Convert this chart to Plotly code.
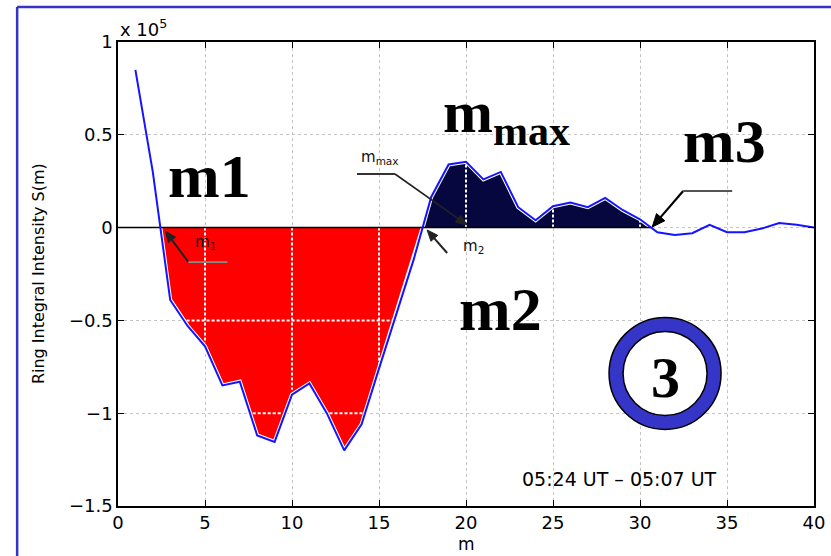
import numpy as np
import plotly.graph_objects as go

# ---------------- data (S in units of 1e5) ----------------
m_vals = list(range(1, 41))
S_vals = [0.85, 0.30, -0.39, -0.53, -0.64, -0.85, -0.83, -1.12, -1.155, -0.90,
          -0.84, -1.00, -1.20, -1.06, -0.76, -0.47, -0.17, 0.165, 0.34, 0.355,
          0.26, 0.30, 0.11, 0.04, 0.115, 0.135, 0.11, 0.16, 0.095, 0.045,
          -0.025, -0.04, -0.03, 0.015, -0.025, -0.025, -0.005, 0.025, 0.015, 0.0]
x_ticks = [0, 5, 10, 15, 20, 25, 30, 35, 40]
y_ticks = [-1.5, -1.0, -0.5, 0.0, 0.5, 1.0]
y_ticktext = ["\u22121.5", "\u22121", "\u22120.5", "0", "0.5", "1"]
x_range = [0, 40]
y_range = [-1.5, 1.0]
time_label = "05:24 UT \u2013 05:07 UT"

m = np.array(m_vals, dtype=float)
S = np.array(S_vals, dtype=float)

# zero crossings
cross = []
for i in range(len(m) - 1):
    if S[i] * S[i + 1] < 0:
        cross.append(m[i] - S[i] * (m[i + 1] - m[i]) / (S[i + 1] - S[i]))
m1, m2, m3 = cross[0], cross[1], cross[2]
m_max = m[np.argmax(np.where((m > m2) & (m < m3), S, -np.inf))]

def region(a, b):
    sel = (m > a) & (m < b)
    return np.r_[a, m[sel], b], np.r_[0, S[sel], 0]

fig = go.Figure()

rx, ry = region(m1, m2)
fig.add_trace(go.Scatter(x=rx, y=ry, fill="toself", fillcolor="#ff0000",
                         line=dict(color="white", width=4), mode="lines",
                         hoverinfo="skip", showlegend=False))
nx, ny = region(m2, m3)
fig.add_trace(go.Scatter(x=nx, y=ny, fill="toself", fillcolor="#07073f",
                         line=dict(color="white", width=4), mode="lines",
                         hoverinfo="skip", showlegend=False))

# white grid lines drawn over the filled areas
def white_seg(xs, ys):
    fig.add_trace(go.Scatter(x=xs, y=ys, mode="lines",
                             line=dict(color="white", width=2, dash="3px,2px"),
                             hoverinfo="skip", showlegend=False))

for a, b in [(m1, m2), (m2, m3)]:
    for xv in x_ticks:
        if a + 0.3 < xv < b - 0.3:
            yv = np.interp(xv, m, S)
            white_seg([xv, xv], [0, yv * 0.97])
    fine = np.linspace(a, b, 2000)
    fy = np.interp(fine, m, S)
    for yv in y_ticks:
        if yv == 0:
            continue
        inside = (fy < yv) if yv < 0 else (fy > yv)
        idx = np.where(inside)[0]
        if len(idx) == 0:
            continue
        runs = np.split(idx, np.where(np.diff(idx) > 1)[0] + 1)
        for r in runs:
            if len(r) > 5:
                white_seg([fine[r[0]] + 0.15, fine[r[-1]] - 0.15], [yv, yv])

# black zero line up to m3
fig.add_trace(go.Scatter(x=[x_range[0], m3], y=[0, 0], mode="lines",
                         line=dict(color="black", width=1.5),
                         hoverinfo="skip", showlegend=False))
# main curve
fig.add_trace(go.Scatter(x=m, y=S, mode="lines",
                         line=dict(color="#1414ff", width=2),
                         hoverinfo="skip", showlegend=False))

tickfont = dict(family="DejaVu Sans", size=18, color="black")
axis_common = dict(showline=True, linecolor="black", linewidth=1.5, mirror="ticks",
                   ticks="inside", ticklen=6, tickcolor="black", tickwidth=1,
                   showgrid=True, gridcolor="#c4c4c4", griddash="dot", gridwidth=1,
                   zeroline=False, tickfont=tickfont, automargin=False)
fig.update_xaxes(range=x_range, tickvals=x_ticks, **axis_common)
fig.update_yaxes(range=y_range, tickvals=y_ticks, ticktext=y_ticktext, **axis_common)

ann = []
big = dict(family="Liberation Serif", size=62, color="black", weight="bold")
for txt, px, py in [("m1", 0.132, 0.711), ("m2", 0.550, 0.4246), ("m3", 0.872, 0.786)]:
    ann.append(dict(text=txt, x=px, y=py, xref="paper", yref="paper", showarrow=False,
                    font=big, xanchor="center", yanchor="middle"))
ann.append(dict(text="m<sub>max</sub>", x=0.558, y=0.8405, xref="paper", yref="paper",
                showarrow=False, font=dict(family="Liberation Serif", size=60, color="black", weight="bold"),
                xanchor="center", yanchor="middle"))
ann.append(dict(text="3", x=0.786, y=0.277, xref="paper", yref="paper", showarrow=False,
                font=dict(family="Liberation Serif", size=58, color="black", weight="bold"),
                xanchor="center", yanchor="middle"))
ann.append(dict(text=time_label, x=0.720, y=0.0573, xref="paper", yref="paper", showarrow=False,
                font=dict(family="DejaVu Sans", size=19, color="black"),
                xanchor="center", yanchor="middle"))
ann.append(dict(text="x 10<sup>5</sup>", x=0.0, y=1.0, xref="paper", yref="paper", showarrow=False,
                font=dict(family="DejaVu Sans", size=18, color="black"),
                xanchor="left", yanchor="bottom"))
ann.append(dict(text="Ring Integral Intensity S(m)", x=-0.1148, y=0.5, xref="paper", yref="paper",
                showarrow=False, textangle=-90,
                font=dict(family="DejaVu Sans", size=16, color="black"),
                xanchor="center", yanchor="middle"))
ann.append(dict(text="m", x=0.5, y=-0.082, xref="paper", yref="paper", showarrow=False,
                font=dict(family="DejaVu Sans", size=17, color="black"),
                xanchor="center", yanchor="middle"))

small = dict(family="DejaVu Sans", size=15, color="#111111")
# small labels tied to crossing points
ann.append(dict(text="m<sub>1</sub>", x=m1, y=0, xshift=45, yshift=-15, showarrow=False, font=small))
ann.append(dict(text="m<sub>max</sub>", x=m_max, y=0, xshift=-86, yshift=70, showarrow=False, font=small))
ann.append(dict(text="m<sub>2</sub>", x=m2, y=0, xshift=51, yshift=-19, showarrow=False, font=small))

shapes = []

def pshape(xa, **kw):
    d = dict(xref="x", yref="y", xsizemode="pixel", ysizemode="pixel", xanchor=xa, yanchor=0)
    d.update(kw)
    return d

# arrows: pixel offsets (y up) from the anchored zero-crossing / maximum point
def arrow(xa, tip, tail, col, w, hl=11, hw=4.5):
    tx, ty = tip
    sx, sy = tail
    dx, dy = tx - sx, ty - sy
    L = (dx * dx + dy * dy) ** 0.5
    ux, uy = dx / L, dy / L
    bx, by = tx - ux * hl, ty - uy * hl
    px_, py_ = -uy * hw, ux * hw
    shapes.append(pshape(xa, type="line", x0=sx, y0=sy, x1=bx + ux * 1, y1=by + uy * 1,
                         line=dict(color=col, width=w)))
    path = (f"M {tx:.2f} {ty:.2f} L {bx + px_:.2f} {by + py_:.2f} "
            f"L {bx - px_:.2f} {by - py_:.2f} Z")
    shapes.append(pshape(xa, type="path", path=path, fillcolor=col,
                         line=dict(color=col, width=1)))

arrow(m1, (5, -3.4), (28, -34.4), "#222222", 2)
arrow(m_max, (1, 2.6), (-71, 53.6), "#222222", 1.6)
arrow(m2, (4.5, -2.4), (24.5, -25.4), "#222222", 2)
arrow(m3, (1, 0.6), (32, 36.6), "black", 2.2, hl=13, hw=5.5)

# horizontal leader lines
for xa, x0, x1, yy, col in [(m1, 28, 67, -34.5, "#8a8a8a"),
                            (m_max, -109, -71, 53.6, "#333333"),
                            (m3, 32, 81, 36.6, "#555555")]:
    shapes.append(pshape(xa, type="line", x0=x0, x1=x1, y0=yy, y1=yy,
                         line=dict(color=col, width=1.8)))
# ring around "3"
shapes.append(dict(type="circle", xref="paper", yref="paper", xsizemode="pixel", ysizemode="pixel",
                   xanchor=0.786, yanchor=0.2856, x0=-56, x1=56, y0=-56, y1=56,
                   fillcolor="#3535c8", line=dict(color="black", width=1.5)))
shapes.append(dict(type="circle", xref="paper", yref="paper", xsizemode="pixel", ysizemode="pixel",
                   xanchor=0.786, yanchor=0.2856, x0=-42, x1=42, y0=-42, y1=42,
                   fillcolor="white", line=dict(color="black", width=1.5)))
# blue frame (left and top)
shapes.append(dict(type="line", xref="paper", yref="paper", x0=-0.1449, x1=-0.1449, y0=-0.2, y1=1.0754,
                   line=dict(color="#3434c8", width=2.5)))
shapes.append(dict(type="line", xref="paper", yref="paper", x0=-0.1449, x1=1.1, y0=1.0754, y1=1.0754,
                   line=dict(color="#3434c8", width=2.5)))

fig.update_layout(width=831, height=556, autosize=False,
                  margin=dict(l=118, r=17, t=42, b=50, autoexpand=False),
                  paper_bgcolor="white", plot_bgcolor="white",
                  annotations=ann, shapes=shapes, showlegend=False)

fig.write_html("out.html")
